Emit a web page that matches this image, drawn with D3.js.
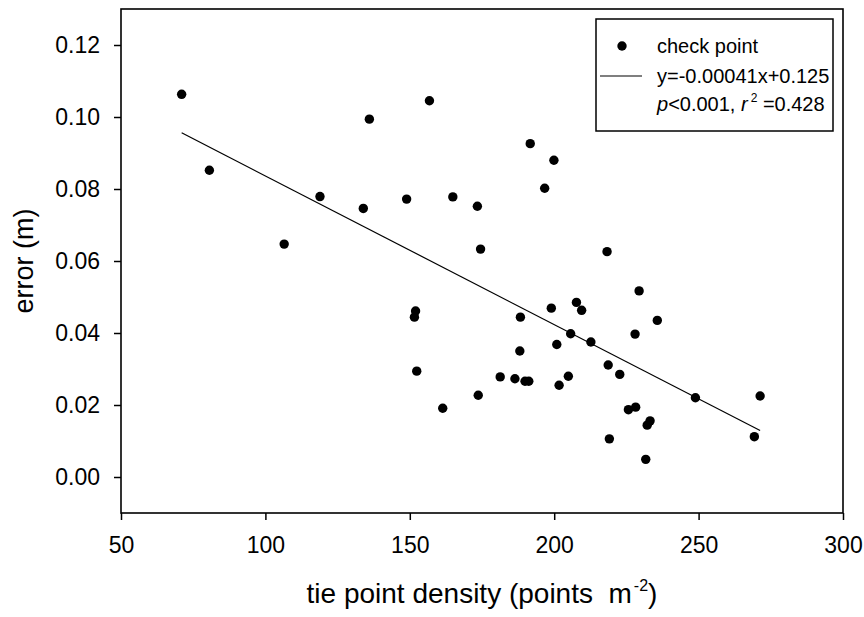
<!DOCTYPE html>
<html>
<head>
<meta charset="utf-8">
<script src="https://cdn.jsdelivr.net/npm/d3@7"></script>
<style>
  body { margin: 0; background: #fff; }
  text { font-family: "Liberation Sans", Arial, sans-serif; fill: #000; white-space: pre; }
</style>
</head>
<body>
<div id="chart"></div>
<script>

// check points
var density = [71.0, 80.6, 136.0, 118.9, 133.9, 156.8, 191.7, 199.9, 196.7, 148.9,
               164.9, 173.4, 106.5, 174.5, 218.3, 229.4, 152.0, 151.6, 188.3, 199.0,
               207.7, 209.5, 235.7, 205.7, 228.0, 212.7, 200.9, 188.1, 152.4, 218.7,
               222.7, 181.3, 186.4, 189.9, 191.2, 204.9, 201.7, 173.7, 161.4, 225.7,
               228.2, 233.2, 232.2, 219.1, 231.7, 248.9, 271.3, 269.3];
var error   = [0.1063, 0.0852, 0.0994, 0.0779, 0.0746, 0.1045, 0.0926, 0.0880, 0.0802, 0.0772,
               0.0778, 0.0752, 0.0647, 0.0633, 0.0626, 0.0517, 0.0461, 0.0444, 0.0444, 0.0469,
               0.0485, 0.0463, 0.0435, 0.0398, 0.0397, 0.0375, 0.0368, 0.0350, 0.0294, 0.0311,
               0.0285, 0.0278, 0.0273, 0.0266, 0.0266, 0.0280, 0.0255, 0.0227, 0.0191, 0.0187,
               0.0194, 0.0156, 0.0144, 0.0106, 0.0049, 0.0220, 0.0225, 0.0112];

// regression line ends (x, y)
var fitX = [71.0, 271.3];
var fitY = [0.0956, 0.0129];

var xTicks = [50, 100, 150, 200, 250, 300];
var yTicks = [0.00, 0.02, 0.04, 0.06, 0.08, 0.10, 0.12];

var legendPoint = "check point";
var legendLine = "y=-0.00041x+0.125";

var svg_width = 864;
var svg_height = 617;
var margin = {top: 9, right: 21, bottom: 104, left: 121};
var width = svg_width - margin.left - margin.right,
    height = svg_height - margin.top - margin.bottom;

var svg = d3.select("#chart")
  .append("svg")
    .attr("width", svg_width)
    .attr("height", svg_height);

var g = svg.append("g")
    .attr("transform", "translate(" + margin.left + "," + margin.top + ")");

var x = d3.scaleLinear().domain([50, 300]).range([0, width]);
var y = d3.scaleLinear().domain([-0.01, 0.13]).range([height, 0]);

// x axis
var xAxis = g.append("g")
    .attr("transform", "translate(0," + height + ")")
    .call(d3.axisBottom(x).tickValues(xTicks).tickSize(7).tickPadding(17).tickFormat(d3.format("d")));

// y axis
var yAxis = g.append("g")
    .call(d3.axisLeft(y).tickValues(yTicks).tickSize(7).tickPadding(14).tickFormat(d3.format(".2f")));

[xAxis, yAxis].forEach(function(a) {
  a.select(".domain").remove();
  a.selectAll("line").attr("stroke", "#000").attr("stroke-width", 1.5);
  a.selectAll("text").style("font-size", "23px").attr("fill", "#000");
});

// frame round the plot
g.append("rect")
    .attr("x", 0)
    .attr("y", 0)
    .attr("width", width)
    .attr("height", height)
    .attr("fill", "none")
    .attr("stroke", "#000")
    .attr("stroke-width", 1.6);

// regression line
g.append("line")
    .attr("x1", x(fitX[0]))
    .attr("y1", y(fitY[0]))
    .attr("x2", x(fitX[1]))
    .attr("y2", y(fitY[1]))
    .attr("stroke", "#000")
    .attr("stroke-width", 1.2);

// points
g.selectAll("circle.pt")
  .data(density)
  .enter()
  .append("circle")
    .attr("class", "pt")
    .attr("cx", function(d) { return x(d); })
    .attr("cy", function(d, i) { return y(error[i]); })
    .attr("r", 4.7)
    .attr("fill", "#000");

// axis titles
var xt = svg.append("text")
    .attr("x", margin.left + width / 2)
    .attr("y", 603)
    .attr("text-anchor", "middle")
    .style("font-size", "28px");
xt.append("tspan").text("tie point density (points  m");
xt.append("tspan").attr("dy", -12).attr("dx", 2).style("font-size", "16px").text("-2");
xt.append("tspan").attr("dy", 12).text(")");

svg.append("text")
    .attr("transform", "translate(33," + (margin.top + height / 2) + ") rotate(-90)")
    .attr("text-anchor", "middle")
    .style("font-size", "27px")
    .text("error (m)");

// legend
var lg = svg.append("g");
lg.append("rect")
    .attr("x", 596)
    .attr("y", 19)
    .attr("width", 237)
    .attr("height", 112)
    .attr("fill", "#fff")
    .attr("stroke", "#000")
    .attr("stroke-width", 1.5);

lg.append("circle").attr("cx", 622).attr("cy", 46).attr("r", 4.7).attr("fill", "#000");
lg.append("text").attr("x", 657).attr("y", 53).style("font-size", "20px").text(legendPoint);

lg.append("line").attr("x1", 600).attr("x2", 642).attr("y1", 76).attr("y2", 76)
    .attr("stroke", "#000").attr("stroke-width", 1.2);
lg.append("text").attr("x", 657).attr("y", 83).style("font-size", "20px").text(legendLine);

var stat = lg.append("text").attr("x", 657).attr("y", 111).style("font-size", "20px");
stat.append("tspan").style("font-style", "italic").text("p");
stat.append("tspan").text("<0.001, ");
stat.append("tspan").style("font-style", "italic").text("r");
stat.append("tspan").attr("dy", -9).attr("dx", 3).style("font-size", "12px").text("2");
stat.append("tspan").attr("dy", 9).text(" =0.428");

</script>
</body>
</html>
